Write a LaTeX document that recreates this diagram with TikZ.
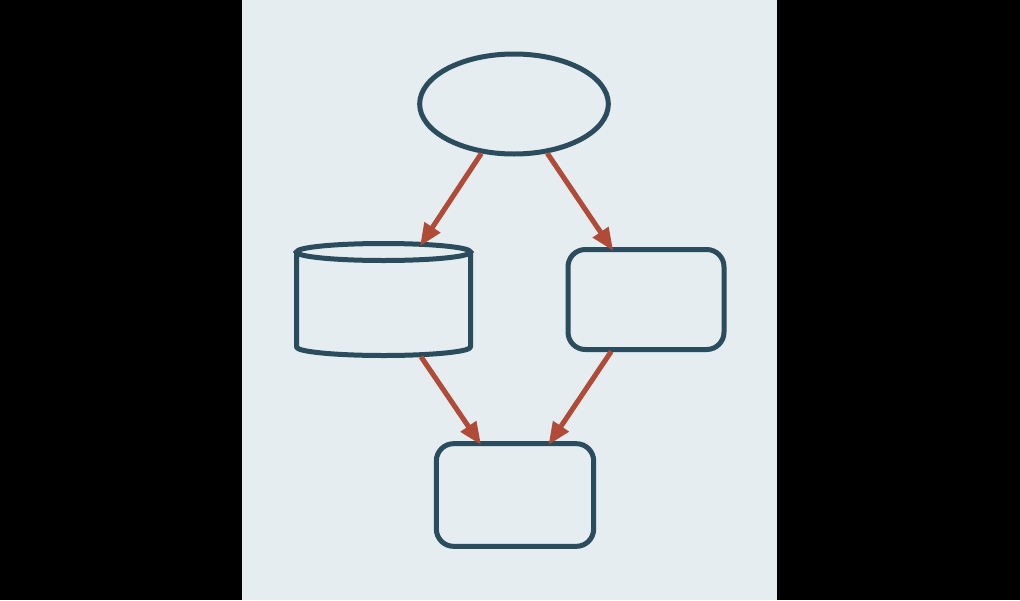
\documentclass[tikz,border=0pt]{standalone}
\usetikzlibrary{arrows.meta,shapes.geometric}
\definecolor{panel}{HTML}{E5EDF1}
\definecolor{edgeC}{HTML}{2A4C5D}
\definecolor{arrowC}{HTML}{B04B37}
\begin{document}
\begin{tikzpicture}[x=0.75pt,y=-0.75pt,
  shapebox/.style={draw=edgeC,line width=3.75pt,fill=panel},
  roundbox/.style={shapebox,rectangle,rounded corners=13pt,minimum width=117pt,minimum height=75pt,inner sep=0pt,outer sep=-1pt},
  flow/.style={draw=arrowC,line width=3.8pt,-{Triangle[length=17pt,width=13.5pt]}},
  fromrect/.style={shorten <=2.9pt}]
\useasboundingbox (0,0) rectangle (1020,600);
\fill[black] (0,0) rectangle (1020,600);
\fill[panel] (242,0) rectangle (777,600);
% nodes
\node[shapebox,ellipse,minimum width=141.5pt,minimum height=75pt,inner sep=0pt] (top) at (514,104) {};
\node[roundbox] (right) at (646,299.5) {};
\node[roundbox,minimum width=118pt,minimum height=77pt] (bottom) at (515,495) {};
\node[rectangle,inner sep=0pt,outer sep=0pt,minimum width=134pt,minimum height=83pt] (cyl) at (383.5,301.5) {};
% cylinder drawing
\draw[edgeC,line width=3.75pt,line join=round]
  (296.5,252) -- (296.5,347) arc[start angle=180,end angle=0,x radius=87,y radius=8.5]
  -- (470.5,252);
\draw[edgeC,line width=3.75pt] (383.5,252) ellipse[x radius=87,y radius=8.5];
% connectors
\draw[flow] (top) -- (cyl);
\draw[flow] (top) -- (right);
\draw[flow] (cyl) -- (bottom);
\draw[flow,fromrect] (right) -- (bottom);
\end{tikzpicture}
\end{document}
